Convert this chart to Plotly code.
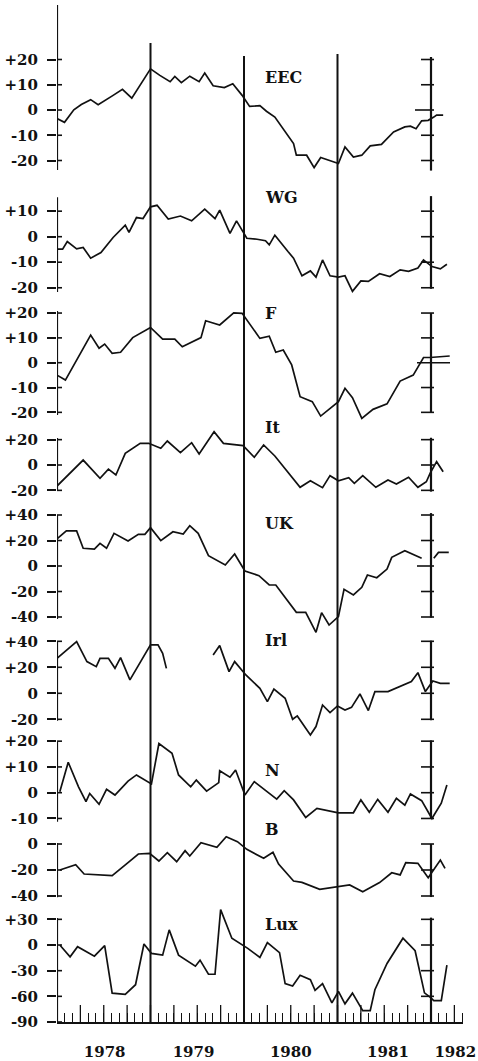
import plotly.graph_objects as go

# ---------------- data (decimal years, index values) ----------------
EEC_x = [1978.00, 1978.08, 1978.18, 1978.26, 1978.36, 1978.44, 1978.60, 1978.70, 1978.80, 1979.00,
         1979.10, 1979.21, 1979.26, 1979.33, 1979.42, 1979.52, 1979.58, 1979.67, 1979.79, 1979.88,
         1979.98, 1980.06, 1980.17, 1980.24, 1980.33, 1980.42, 1980.53, 1980.56, 1980.67, 1980.75,
         1980.82, 1981.01, 1981.08, 1981.17, 1981.26, 1981.35, 1981.47, 1981.60, 1981.72, 1981.78,
         1981.84, 1981.90, 1981.97, 1982.03, 1982.06, 1982.13]
EEC_y = [-3.4, -4.9, 0.1, 2.2, 4.1, 2.1, 5.8, 8.2, 4.7, 16.3,
         13.7, 11.2, 13.3, 10.8, 13.4, 11.2, 14.6, 9.6, 8.9, 10.4,
         5.8, 1.4, 1.7, -0.5, -2.8, -7.4, -13.3, -17.9, -17.9, -22.8,
         -18.8, -21.2, -14.6, -18.6, -17.9, -14.2, -13.6, -8.7, -6.7, -6.4,
         -7.4, -4.3, -4.1, -2.8, -2.0, -2.0]

WG_x = [1978.00, 1978.06, 1978.11, 1978.21, 1978.28, 1978.36, 1978.47, 1978.60, 1978.73, 1978.77,
        1978.85, 1978.92, 1979.00, 1979.07, 1979.19, 1979.32, 1979.44, 1979.58, 1979.69, 1979.74,
        1979.85, 1979.92, 1979.99, 1980.03, 1980.14, 1980.23, 1980.27, 1980.33, 1980.47, 1980.53,
        1980.62, 1980.71, 1980.77, 1980.84, 1980.92, 1981.01, 1981.08, 1981.16, 1981.25, 1981.33,
        1981.45, 1981.56, 1981.67, 1981.76, 1981.86, 1981.92, 1982.01, 1982.10, 1982.17]
WG_y = [-4.9, -4.9, -1.9, -4.8, -4.2, -8.4, -6.2, -0.3, 4.5, 1.7,
        7.5, 7.1, 11.7, 12.3, 6.9, 8.1, 6.2, 10.8, 7.1, 10.4,
        1.3, 6.2, 1.9, -0.6, -1.0, -1.6, -3.2, 0.6, -5.8, -8.4,
        -15.3, -13.4, -15.8, -9.1, -15.3, -15.8, -15.3, -21.4, -17.3, -17.5,
        -14.5, -15.6, -13.0, -13.6, -12.3, -9.1, -11.7, -12.6, -10.8]

F_x = [1978.00, 1978.09, 1978.36, 1978.45, 1978.51, 1978.59, 1978.68, 1978.81, 1979.00, 1979.13,
       1979.26, 1979.34, 1979.54, 1979.59, 1979.74, 1979.89, 1979.98, 1980.17, 1980.27, 1980.34,
       1980.42, 1980.51, 1980.60, 1980.73, 1980.82, 1981.01, 1981.08, 1981.16, 1981.26, 1981.38,
       1981.53, 1981.67, 1981.81, 1981.92, 1981.99, 1982.20]
F_y = [-5.0, -7.0, 11.1, 5.8, 7.5, 3.8, 4.2, 10.1, 14.2, 9.5,
       9.5, 6.4, 10.1, 16.9, 15.2, 20.1, 19.9, 9.8, 10.7, 4.2,
       5.1, -0.9, -13.7, -15.7, -21.5, -15.7, -10.3, -14.1, -22.4, -18.8,
       -16.6, -7.4, -5.0, 2.1, 2.1, 2.7]

It_x = [1978.00, 1978.28, 1978.46, 1978.55, 1978.63, 1978.73, 1978.89, 1978.98, 1979.11, 1979.18,
        1979.32, 1979.44, 1979.52, 1979.68, 1979.78, 1979.99, 1980.11, 1980.21, 1980.33, 1980.60,
        1980.71, 1980.84, 1980.92, 1981.01, 1981.12, 1981.18, 1981.27, 1981.41, 1981.54, 1981.63,
        1981.76, 1981.86, 1981.95, 1981.99, 1982.06, 1982.13]
It_y = [-16.6, 3.9, -10.5, -3.2, -7.9, 9.2, 17.1, 17.1, 13.2, 18.9,
        9.7, 17.6, 8.7, 26.3, 17.1, 15.3, 6.1, 15.8, 7.1, -17.6,
        -12.4, -17.9, -8.4, -12.4, -10.0, -14.5, -8.4, -17.6, -11.8, -15.0,
        -9.7, -17.6, -13.2, -6.6, 2.6, -5.3]

UK_x = [1978.00, 1978.10, 1978.21, 1978.28, 1978.40, 1978.46, 1978.53, 1978.61, 1978.76, 1978.87,
        1978.94, 1979.00, 1979.11, 1979.24, 1979.35, 1979.42, 1979.51, 1979.62, 1979.80, 1979.90,
        1980.01, 1980.16, 1980.27, 1980.34, 1980.56, 1980.66, 1980.77, 1980.83, 1980.91, 1981.01,
        1981.07, 1981.17, 1981.26, 1981.32, 1981.42, 1981.53, 1981.58, 1981.72, 1981.90, None,
        1982.03, 1982.08, 1982.19]
UK_y = [21.2, 27.5, 27.5, 13.9, 13.3, 17.8, 13.9, 25.6, 19.6, 24.8,
        24.8, 30.1, 19.9, 26.9, 25.1, 31.6, 25.6, 8.1, 0.8, 9.4,
        -3.9, -7.6, -14.9, -14.9, -36.3, -36.3, -52.0, -36.6, -46.3, -39.7,
        -18.3, -22.7, -16.7, -7.1, -9.2, -2.4, 6.8, 12.0, 6.0, None,
        6.0, 10.7, 10.7]

Irl_x = [1978.00, 1978.21, 1978.32, 1978.42, 1978.46, 1978.55, 1978.62, 1978.68, 1978.78, 1979.00,
         1979.08, 1979.13, 1979.17, None, 1979.67, 1979.74, 1979.84, 1979.90, 1980.02, 1980.17,
         1980.25, 1980.32, 1980.44, 1980.52, 1980.57, 1980.71, 1980.77, 1980.84, 1980.92, 1981.00,
         1981.08, 1981.15, 1981.24, 1981.33, 1981.40, 1981.54, 1981.79, 1981.86, 1981.94, 1982.02,
         1982.10, 1982.20]
Irl_y = [26.9, 39.7, 24.4, 20.5, 26.9, 26.9, 19.2, 27.4, 10.3, 37.2,
         37.2, 30.8, 19.2, None, 29.5, 36.7, 16.7, 24.4, 14.1, 3.8,
         -6.4, 3.3, -3.8, -20.0, -17.4, -32.1, -25.6, -9.0, -14.9, -9.7,
         -12.8, -10.8, -0.5, -13.3, 1.3, 1.3, 9.0, 15.9, 1.3, 9.5,
         7.7, 7.7]

N_x = [1978.03, 1978.12, 1978.23, 1978.31, 1978.35, 1978.45, 1978.53, 1978.62, 1978.76, 1978.85,
       1979.01, 1979.09, 1979.23, 1979.30, 1979.43, 1979.49, 1979.60, 1979.73, 1979.74, 1979.85,
       1979.91, 1980.01, 1980.11, 1980.35, 1980.43, 1980.53, 1980.66, 1980.78, 1981.01, 1981.17,
       1981.25, 1981.34, 1981.43, 1981.54, 1981.63, 1981.72, 1981.78, 1981.90, 1982.01, 1982.11,
       1982.17]
N_y = [0.4, 11.8, 2.3, -3.5, -0.3, -4.5, 1.3, -0.9, 4.5, 6.9,
       3.4, 19.1, 15.3, 6.9, 2.3, 4.9, 0.6, 3.9, 8.5, 6.0,
       8.8, -0.9, 4.3, -2.5, 0.8, -2.8, -9.6, -6.1, -7.8, -7.8,
       -2.8, -7.6, -2.6, -7.6, -2.2, -4.8, -0.5, -3.1, -10.0, -4.1,
       3.0]

B_x = [1978.03, 1978.20, 1978.29, 1978.59, 1978.75, 1978.87, 1978.99, 1979.09, 1979.18, 1979.28,
       1979.37, 1979.42, 1979.54, 1979.71, 1979.81, 1979.93, 1980.03, 1980.21, 1980.31, 1980.37,
       1980.53, 1980.62, 1980.81, 1980.99, 1981.13, 1981.27, 1981.45, 1981.58, 1981.67, 1981.73,
       1981.86, 1981.97, 1982.04, 1982.10, 1982.15]
B_y = [-20.0, -15.9, -23.1, -24.4, -14.9, -7.7, -7.2, -13.1, -6.7, -13.6,
       -5.1, -9.2, 1.0, -2.6, 5.6, 1.8, -4.1, -11.0, -6.4, -15.4,
       -28.5, -29.5, -34.9, -33.3, -31.5, -36.7, -29.7, -22.1, -23.8, -14.4,
       -14.9, -25.9, -18.2, -12.3, -18.7]

Lux_x = [1978.03, 1978.14, 1978.22, 1978.40, 1978.51, 1978.59, 1978.73, 1978.84, 1978.93, 1979.01,
         1979.13, 1979.20, 1979.30, 1979.48, 1979.53, 1979.62, 1979.69, 1979.75, 1979.87, 1980.04,
         1980.17, 1980.25, 1980.38, 1980.44, 1980.52, 1980.60, 1980.71, 1980.76, 1980.84, 1980.94,
         1981.01, 1981.08, 1981.16, 1981.27, 1981.35, 1981.40, 1981.53, 1981.70, 1981.83, 1981.93,
         1981.99, 1982.03, 1982.11, 1982.17]
Lux_y = [0.0, -13.8, -2.0, -13.0, -0.8, -56.3, -57.8, -46.4, 1.2, -9.8,
         -11.8, 17.7, -11.8, -24.8, -17.7, -34.2, -34.2, 41.3, 7.9, -3.9,
         -14.6, 2.8, -9.0, -45.2, -48.0, -35.4, -40.5, -53.1, -45.2, -67.7,
         -54.3, -68.8, -56.3, -76.7, -76.7, -52.3, -21.6, 7.9, -6.7, -55.9,
         -61.0, -64.9, -64.9, -23.6]

# tick values of each panel's scale
EEC_ticks = [20, 10, 0, -10, -20]
WG_ticks = [10, 0, -10, -20]
F_ticks = [20, 10, 0, -10, -20]
It_ticks = [20, 0, -20]
UK_ticks = [40, 20, 0, -20, -40]
Irl_ticks = [40, 20, 0, -20]
N_ticks = [20, 10, 0, -10]
B_ticks = [0, -20, -40]
Lux_ticks = [30, 0, -30, -60, -90]

YEAR_LABELS = ["1978", "1979", "1980", "1981", "1982"]
YEAR_LABEL_POS = [1978.51, 1979.46, 1980.50, 1981.54, 1982.26]
MARKER_YEARS = [1979, 1980, 1981]

# ---------------- layout geometry ----------------
W, H = 478, 1061
TOP, BOT = 5, 1022           # plot area in px
LEFT, RIGHT = 57, 463
X0 = 1978.0
PX_PER_YEAR = 93.5
X1 = X0 + (RIGHT - LEFT) / PX_PER_YEAR

# name, x, y, ticks, zero_px, px_per_unit, left extent, right extent, label y px
PANELS = [
    ("EEC", EEC_x, EEC_y, EEC_ticks, 110.0, 2.525, (-23.8, 41.6), (-24.0, 21.0), 78),
    ("WG", WG_x, WG_y, WG_ticks, 236.7, 2.553, (-21.7, 15.5), (-20.4, 15.9), 197),
    ("F", F_x, F_y, F_ticks, 362.7, 2.4825, (-21.1, 20.8), (-20.2, 20.0), 313),
    ("It", It_x, It_y, It_ticks, 465.0, 1.2675, (-20.5, 21.3), (-21.0, 21.5), 427),
    ("UK", UK_x, UK_y, UK_ticks, 566.0, 1.275, (-41.6, 40.0), (-40.5, 41.5), 523),
    ("Irl", Irl_x, Irl_y, Irl_ticks, 693.3, 1.30, (-21.1, 39.5), (-20.7, 40.5), 641),
    ("N", N_x, N_y, N_ticks, 792.7, 2.577, (-11.3, 19.8), (-10.0, 20.3), 770),
    ("B", B_x, B_y, B_ticks, 844.0, 1.30, (-41.0, 0.8), (-40.8, 0.0), 829),
    ("Lux", Lux_x, Lux_y, Lux_ticks, 945.0, 77.0 / 90.0, (-90.0, 31.6), (-90.0, 32.0), 924),
]
# special longer zero ticks on the right-hand scale (px left, px right)
RIGHT_ZERO_TICK = {"EEC": (16, 3), "F": (14, 19), "UK": (14, 3)}
VLINE_TOP_PX = {1979: 43, 1980: 56, 1981: 54}

INK = "#111111"
FONT = dict(family="DejaVu Serif", size=15, color=INK, weight="bold")

def paper_y(px):
    return (BOT - px) / (BOT - TOP)

def fmt(v):
    return "+%d" % v if v > 0 else "%d" % v

fig = go.Figure()
shapes = []
annotations = []
layout_axes = {}

for i, (name, xs, ys, ticks, zpx, s, lext, rext, lab_px) in enumerate(PANELS):
    ykey = "y" if i == 0 else "y%d" % (i + 1)
    lkey = "yaxis" if i == 0 else "yaxis%d" % (i + 1)
    rng = [-(BOT - zpx) / s, (zpx - TOP) / s]
    ax = dict(domain=[0, 1], range=rng, anchor="x", tickmode="array",
              tickvals=ticks, ticktext=[fmt(t) for t in ticks],
              ticks="outside", ticklen=9, tickwidth=1.6, tickcolor=INK,
              ticklabelstandoff=6,
              showline=False, showgrid=False, zeroline=False,
              tickfont=FONT, fixedrange=True)
    if i > 0:
        ax["overlaying"] = "y"
    layout_axes[lkey] = ax

    fig.add_trace(go.Scatter(x=xs, y=ys, mode="lines", xaxis="x", yaxis=ykey,
                             line=dict(color=INK, width=1.7), connectgaps=False,
                             showlegend=False, hoverinfo="skip", name=name))

    # left scale: axis segment and inner halves of the crossing ticks
    shapes.append(dict(type="line", xref="x", yref=ykey, x0=X0, x1=X0,
                       y0=lext[0], y1=lext[1], line=dict(color=INK, width=2.2)))
    for t in ticks:
        shapes.append(dict(type="line", xref="x", yref=ykey, x0=X0,
                           x1=X0 + 5 / PX_PER_YEAR, y0=t, y1=t,
                           line=dict(color=INK, width=1.6)))
    # right scale at 1982
    shapes.append(dict(type="line", xref="x", yref=ykey, x0=1982, x1=1982,
                       y0=rext[0], y1=rext[1], line=dict(color=INK, width=2.2)))
    for t in ticks:
        if t == -90:
            continue
        lpx, rpx = (10, 3)
        if t == 0 and name in RIGHT_ZERO_TICK:
            lpx, rpx = RIGHT_ZERO_TICK[name]
        shapes.append(dict(type="line", xref="x", yref=ykey,
                           x0=1982 - lpx / PX_PER_YEAR, x1=1982 + rpx / PX_PER_YEAR,
                           y0=t, y1=t, line=dict(color=INK, width=1.6)))

    annotations.append(dict(text=name, xref="x", yref="paper", x=1980.2,
                            y=paper_y(lab_px), xanchor="left", yanchor="middle",
                            showarrow=False, font=dict(FONT, size=16)))

for yr in MARKER_YEARS:
    shapes.append(dict(type="line", xref="x", yref="paper", x0=yr, x1=yr,
                       y0=0, y1=paper_y(VLINE_TOP_PX[yr]),
                       line=dict(color=INK, width=2.0)))

# month ticks along the time axis: quarterly ones are taller
months = [X0 + m / 12 for m in range(0, 53)]
quarters = [X0 + q / 4 for q in range(1, 18)]
for q in quarters:
    shapes.append(dict(type="line", xref="x", yref="paper", x0=q, x1=q,
                       y0=0, y1=17 / (BOT - TOP), line=dict(color=INK, width=1.3)))

fig.update_layout(
    width=W, height=H,
    margin=dict(l=LEFT, r=W - RIGHT, t=TOP, b=H - BOT, autoexpand=False),
    paper_bgcolor="white", plot_bgcolor="white",
    showlegend=False,
    xaxis=dict(domain=[0, 1], range=[X0, X1], anchor="y",
               showline=True, linewidth=2.2, linecolor=INK,
               tickmode="array", tickvals=YEAR_LABEL_POS, ticktext=YEAR_LABELS,
               ticks="", ticklabelstandoff=15, tickfont=FONT,
               minor=dict(tickvals=months, ticks="inside", ticklen=9,
                          tickwidth=1.2, tickcolor=INK, showgrid=False),
               showgrid=False, zeroline=False, fixedrange=True),
    shapes=shapes,
    annotations=annotations,
    **layout_axes,
)

fig.write_html("out.html", config={"displayModeBar": False},
               post_script="document.body.style.margin='0px';")
